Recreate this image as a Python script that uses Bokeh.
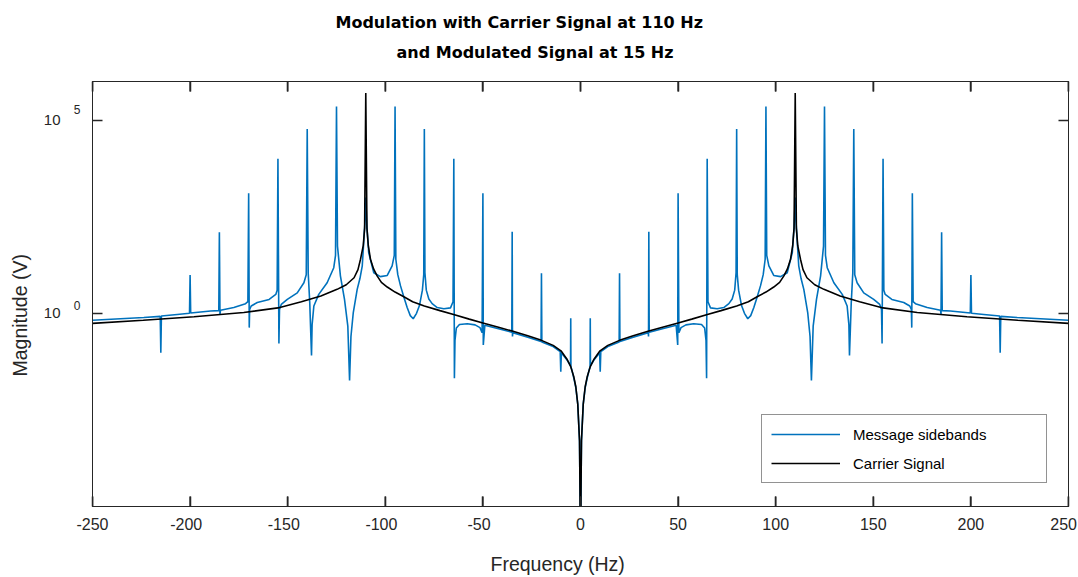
import math
from bokeh.plotting import figure
from bokeh.models import (FixedTicker, LinearAxis, LogAxis, Legend, LegendItem,
                          Title, Range1d)
from bokeh.embed import file_html
from bokeh.resources import INLINE

# ---------------- data (spectrum is symmetric in f) ----
# Carrier spectrum, positive-frequency half: frequency (Hz) and log10 magnitude
carrier_freq = [0, 0.5, 1.4, 2.4, 3.4, 5, 7, 10, 14, 20, 27, 35, 42, 50, 57, 65, 72,
                80, 86, 90.5, 95, 99, 102, 104.2, 106, 107.6, 108.7, 109.4, 110,
                110.6, 111.3, 112.7, 114, 116, 120, 124.7, 133, 143, 155, 172.5,
                198, 224, 250]
carrier_log = [-6, -3.3, -2.35, -1.9, -1.65, -1.38, -1.18, -0.97, -0.83, -0.7, -0.58,
               -0.46, -0.36, -0.25, -0.15, -0.03, 0.07, 0.19, 0.3, 0.43, 0.55, 0.68,
               0.8, 0.97, 1.15, 1.4, 1.75, 2.2, 5.7, 2.2, 1.75, 1.4, 1.13, 0.92,
               0.74, 0.62, 0.45, 0.3, 0.14, 0.02, -0.09, -0.18, -0.26]

# Message sidebands spectrum, positive-frequency half
sideband_freq = [0, 0.5, 1.4, 2.4, 3.4, 4.5, 4.9, 5.0, 5.1, 7, 9.8, 10.1, 10.4, 14,
                 19.8, 20.0, 20.2, 27, 34.7, 34.85, 35.0, 35.2, 42, 49.0, 49.8, 50.0,
                 50.4, 51.5, 54, 58, 62, 63.6, 64.3, 64.6, 64.9, 65.3, 66.6, 70, 73.4,
                 76, 77.7, 79.0, 79.7, 80.0, 80.3, 81, 82.5, 84, 85.7, 87.2, 88.8,
                 90.5, 92.2, 93.6, 94.6, 95.0, 95.4, 96.5, 99, 102.5, 105.9, 108.5,
                 109.5, 110, 110.5, 111.8, 113, 114.4, 116.4, 117.6, 118.3, 119.2,
                 120.9, 123, 124.5, 125.0, 125.5, 126.4, 129.8, 134.1, 136.6, 137.5,
                 137.8, 138.7, 139.5, 140.0, 140.5, 141.7, 145.1, 150.2, 153.3,
                 154.2, 154.5, 155.0, 155.4, 156.1, 159.5, 165.6, 168.7, 169.5,
                 169.7, 170.0, 170.4, 171.6, 177.6, 184.4, 184.7, 185.0, 185.3,
                 189.5, 199.7, 200.0, 200.3, 206.6, 214.7, 215.0, 215.3, 223.7, 250]
sideband_log = [-6, -3.3, -2.35, -1.92, -1.68, -1.45, -1.4, -0.13, -1.36, -1.2, -1.02,
                -1.51, -0.99, -0.86, -0.74, 1.04, -0.73, -0.62, -0.5, -0.6, 2.11,
                -0.49, -0.4, -0.31, -0.82, 3.11, -0.5, -0.37, -0.3, -0.27, -0.29,
                -0.38, -0.7, -1.68, 4.0, 0.3, 0.14, 0.12, 0.15, 0.25, 0.37, 0.6, 1.05,
                4.77, 1.0, 0.6, 0.2, 0.0, -0.14, -0.06, 0.15, 0.42, 0.71, 1.0, 1.4,
                5.35, 1.5, 1.23, 0.98, 0.95, 1.05, 1.57, 2.3, 3.0, 2.3, 1.23, 0.9,
                0.62, 0.02, -0.6, -1.74, -0.33, 0.36, 0.97, 1.74, 5.35, 1.5, 1.18,
                0.79, 0.49, 0.19, -0.3, -1.09, 0.27, 1.05, 4.77, 1.0, 0.79, 0.53,
                0.36, 0.23, 0.1, -0.78, 4.0, 0.6, 0.49, 0.36, 0.28, 0.19, 0.1, -0.37,
                3.11, 0.3, 0.25, 0.15, 0.08, -0.02, 2.10, 0.07, 0.06, 0.01, 0.99, 0.0,
                -0.03, -0.07, -1.02, -0.08, -0.11, -0.18]

x_ticks = [-250, -200, -150, -100, -50, 0, 50, 100, 150, 200, 250]
x_tick_labels = ["-250", "-200", "-150", "-100", "-50", "0", "50", "100", "150", "200", "250"]
# where each x tick label sits (digits centred under the tick, as in the picture;
# the last one is pulled inside the canvas)
x_label_positions = [-250, -202, -152, -102, -52, 0, 50, 100, 150, 200, 247.5]
y_ticks = [1, 100000]
y_tick_bases = ["10", "10"]
# exponents are drawn raised above their tick (log10 position of each exponent)
y_exponent_positions = [10 ** 0.19, 10 ** 5.28]
y_tick_exponents = ["0", "5"]

title_line1 = "Modulation with Carrier Signal at 110 Hz"
title_line2 = "and Modulated Signal at 15 Hz"
x_label = "Frequency (Hz)"
y_label = "Magnitude (V)"
series_names = ["Message sidebands", "Carrier Signal"]


def full_spectrum(freq, logmag):
    f = [-v for v in reversed(freq[1:])] + list(freq)
    m = list(reversed(logmag[1:])) + list(logmag)
    return f, [10 ** v for v in m]


cf, cm = full_spectrum(carrier_freq, carrier_log)
sf, sm = full_spectrum(sideband_freq, sideband_log)

AX = "#262626"
FONT = "Liberation Sans"
Y_MIN, Y_MAX = 1e-5, 1e6
TICK_W = 1.5

p = figure(frame_width=976, frame_height=425, x_range=Range1d(-250, 250),
           y_range=Range1d(Y_MIN, Y_MAX), y_axis_type="log",
           output_backend="svg", toolbar_location=None,
           min_border_left=92, min_border_right=10, min_border_top=81,
           min_border_bottom=71)
p.grid.visible = False
p.outline_line_color = AX
p.outline_line_width = 1
p.background_fill_color = "white"
p.border_fill_color = "white"

r1 = p.line(sf, sm, line_color="#0072BD", line_width=1.6)
r2 = p.line(cf, cm, line_color="black", line_width=1.6)

# inward tick marks on the bottom and top edges of the box
p.ray(x=x_ticks, y=[Y_MIN] * len(x_ticks), length=10, length_units="screen",
      angle=math.pi / 2, line_color=AX, line_width=TICK_W)
p.ray(x=x_ticks, y=[Y_MAX] * len(x_ticks), length=10, length_units="screen",
      angle=-math.pi / 2, line_color=AX, line_width=TICK_W)

NO_TICKS = dict(minor_tick_in=0, minor_tick_out=0, major_tick_out=0)
LABELS_ONLY = dict(axis_line_color=None, major_tick_line_color=None,
                   minor_tick_line_color=None, major_tick_in=0, **NO_TICKS)

# bottom axis: ticks only
xa = p.xaxis[0]
xa.ticker = FixedTicker(ticks=x_ticks, minor_ticks=[])
xa.major_label_overrides = {t: "" for t in x_ticks}
xa.major_tick_in = 10
xa.major_tick_out = 0
xa.minor_tick_in = 0
xa.minor_tick_out = 0
xa.axis_line_color = AX
xa.major_tick_line_color = AX
xa.major_tick_line_width = TICK_W

# bottom tick labels
x_lab_axis = LinearAxis(ticker=FixedTicker(ticks=x_label_positions, minor_ticks=[]),
                        major_label_overrides={t: s for t, s in
                                               zip(x_label_positions, x_tick_labels)},
                        **LABELS_ONLY, major_label_standoff=11,
                        major_label_text_font=FONT, major_label_text_font_size="16px",
                        major_label_text_color=AX)
p.add_layout(x_lab_axis, "below")

# left axis: ticks only
ya = p.yaxis[0]
ya.ticker = FixedTicker(ticks=y_ticks, minor_ticks=[])
ya.major_label_overrides = {t: "" for t in y_ticks}
ya.major_tick_in = 10
ya.major_tick_out = 0
ya.minor_tick_in = 0
ya.minor_tick_out = 0
ya.axis_line_color = AX
ya.major_tick_line_color = AX
ya.major_tick_line_width = TICK_W

# left tick labels: raised exponents, then the bases "10"
exp_axis = LinearAxis(ticker=FixedTicker(ticks=y_exponent_positions, minor_ticks=[]),
                      major_label_overrides={t: s for t, s in
                                             zip(y_exponent_positions, y_tick_exponents)},
                      **LABELS_ONLY, major_label_standoff=12,
                      major_label_text_font=FONT, major_label_text_font_size="12px",
                      major_label_text_color=AX)
p.add_layout(exp_axis, "left")
base_axis = LinearAxis(ticker=FixedTicker(ticks=y_ticks, minor_ticks=[]),
                       major_label_overrides={t: s for t, s in zip(y_ticks, y_tick_bases)},
                       **LABELS_ONLY, major_label_standoff=10,
                       major_label_text_font=FONT, major_label_text_font_size="15px",
                       major_label_text_color=AX)
p.add_layout(base_axis, "left")

# top and right axes (ticks only, box style)
top = LinearAxis(ticker=FixedTicker(ticks=x_ticks, minor_ticks=[]), major_tick_in=10,
                 **NO_TICKS, axis_line_color=AX, major_tick_line_color=AX,
                 major_tick_line_width=TICK_W,
                 major_label_overrides={t: "" for t in x_ticks})
p.add_layout(top, "above")
right = LogAxis(ticker=FixedTicker(ticks=y_ticks, minor_ticks=[]), major_tick_in=10,
                **NO_TICKS, axis_line_color=AX, major_tick_line_color=AX,
                major_tick_line_width=TICK_W,
                major_label_overrides={t: "" for t in y_ticks})
p.add_layout(right, "right")

# titles (line 2 closer to the frame)
p.add_layout(Title(text=title_line2, align="left", offset=304, standoff=40,
                   text_font="DejaVu Sans", text_font_size="16px",
                   text_font_style="bold", text_color="black"), "above")
p.add_layout(Title(text=title_line1, align="left", offset=243, standoff=-22,
                   text_font="DejaVu Sans", text_font_size="16px",
                   text_font_style="bold", text_color="black"), "above")

# axis labels
p.add_layout(Title(text="\n" + x_label, align="left", offset=398, standoff=-8,
                   text_font=FONT, text_font_size="19.5px",
                   text_font_style="normal", text_color=AX), "below")
p.add_layout(Title(text=y_label + "\n", align="left", offset=130, standoff=-24,
                   text_font=FONT, text_font_size="19.5px",
                   text_font_style="normal", text_color=AX), "left")

legend = Legend(items=[LegendItem(label=series_names[0], renderers=[r1]),
                       LegendItem(label=series_names[1], renderers=[r2])],
                location=(669, 23), padding=9, spacing=9, margin=0,
                glyph_width=69, glyph_height=20, label_height=20, label_width=184,
                label_standoff=13, label_text_font=FONT,
                label_text_font_size="15px", label_text_color="black",
                border_line_color=AX, border_line_width=1,
                background_fill_color="white", background_fill_alpha=1)
p.add_layout(legend)

open("out.html", "w").write(file_html(p, INLINE))
